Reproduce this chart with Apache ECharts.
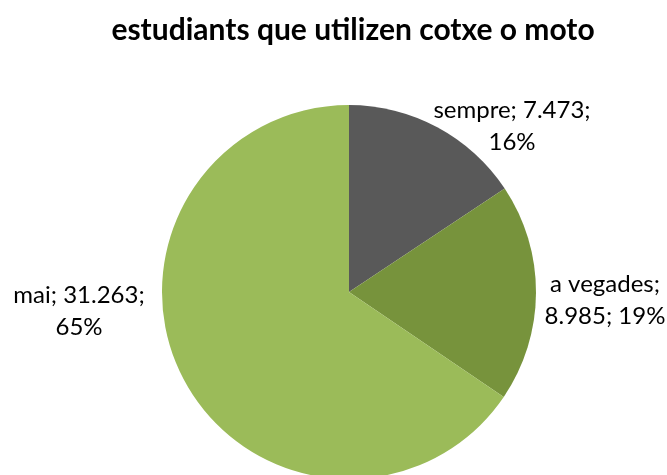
<!DOCTYPE html>
<html>
<head>
<meta charset="utf-8">
<script src="https://cdn.jsdelivr.net/npm/echarts@6/dist/echarts.min.js"></script>
<style>
  html, body { margin: 0; padding: 0; background: #fff; }
  #chart { width: 667px; height: 475px; }
</style>
</head>
<body>
<div id="chart"></div>
<script>
const categories = ['sempre', 'a vegades', 'mai']
const values = [7473, 8985, 31263]
const colors = ['#595959', '#77933C', '#9BBB59']

// label anchors (centre of each text block)
const labelPos = [[512, 126], [605, 300], [79, 311]]

function fmt(n) {
  return String(n).replace(/\B(?=(\d{3})+(?!\d))/g, '.')
}

let myChart = echarts.init(document.getElementById('chart'))
let option = {
  title: {
    text: 'estudiants que utilizen cotxe o moto',
    left: 348,
    top: 10,
    textAlign: 'center',
    textStyle: {
      fontFamily: 'Lato',
      fontSize: 30,
      fontWeight: 'bold',
      color: '#000'
    }
  },
  series: [{
    type: 'pie',
    center: [349, 292],
    radius: 187,
    startAngle: 90,
    clockwise: true,
    percentPrecision: 0,
    animation: false,
    data: categories.map((c, i) => ({
      name: c,
      value: values[i],
      itemStyle: { color: colors[i] }
    })),
    label: {
      show: true,
      position: 'outside',
      fontFamily: 'Lato',
      fontSize: 24,
      lineHeight: 32,
      color: '#000',
      align: 'center',
      overflow: 'none',
      formatter: p => {
        if (p.dataIndex === 1) return p.name + ';\n' + fmt(p.value) + '; ' + p.percent + '%'
        return p.name + '; ' + fmt(p.value) + ';\n' + p.percent + '%'
      }
    },
    labelLine: { show: false },
    labelLayout: p => ({
      x: labelPos[p.dataIndex][0],
      y: labelPos[p.dataIndex][1],
      align: 'center',
      verticalAlign: 'middle',
      width: 200
    })
  }]
}
myChart.setOption(option)
</script>
</body>
</html>
